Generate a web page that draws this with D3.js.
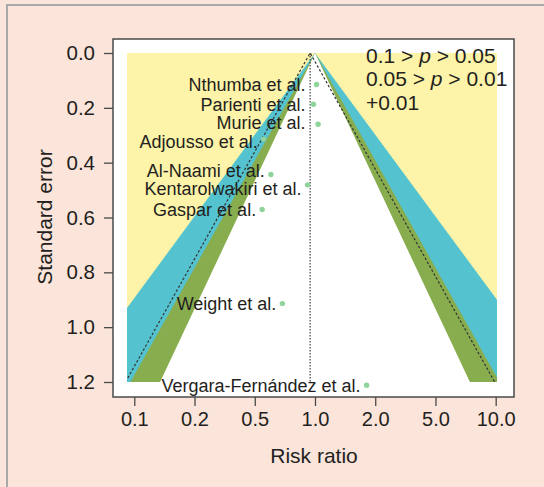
<!DOCTYPE html>
<html><head><meta charset="utf-8">
<script src="https://cdn.jsdelivr.net/npm/d3@7"></script>
<style>
html,body{margin:0;padding:0;background:#fbe4da;}
svg{display:block;font-family:"Liberation Sans",Arial,sans-serif;}
</style></head>
<body>
<script>
// ---- data ----
const studies = ["Nthumba et al.","Parienti et al.","Murie et al.","Adjousso et al.","Al-Naami et al.","Kentarolwakiri et al.","Gaspar et al.","Weight et al.","Vergara-Fernández et al."];
const riskRatios = [1.02, 0.98, 1.04, 0.52, 0.57, 0.91, 0.51, 0.66, 1.93];
const standardErrors = [0.115, 0.187, 0.260, 0.314, 0.443, 0.481, 0.571, 0.914, 1.212];
const pooledRR = 0.94;
const xTickLabels = ["0.1","0.2","0.5","1.0","2.0","5.0","10.0"];
const yTicks = [0.0, 0.2, 0.4, 0.6, 0.8, 1.0, 1.2];
const contourZ = [1.645, 1.96, 2.576];
const legendLabels = [["0.1 > ","p"," > 0.05"],["0.05 > ","p"," > 0.01"],["+0.01","",""]];
const seMax = 1.2;
const xRegion = [-2.39, 2.32]; // log risk ratio extent of contour region

// ---- layout ----
const W = 544, H = 487;
const svg = d3.select("body").append("svg").attr("width", W).attr("height", H);
svg.append("rect").attr("width", W).attr("height", H).attr("fill", "#fbe4da");
svg.append("path").attr("d", `M7,${H} L7,5 L${W},5`).attr("fill","none").attr("stroke","#a9a9a9").attr("stroke-width",2);

const x = d3.scaleLinear().domain([-2.574, 2.536]).range([113, 514]);
const y = d3.scaleLinear().domain([0, 1.2]).range([53, 382]);
const yBox = [y.invert(39), y.invert(397)];

// box
svg.append("rect").attr("x", x.range()[0]).attr("y", y(yBox[0]))
  .attr("width", x.range()[1]-x.range()[0]).attr("height", y(yBox[1])-y(yBox[0]))
  .attr("fill","#fff").attr("stroke","#4a4a4a").attr("stroke-width",1.5);

// contour region (snapped to whole pixels)
const rx0 = Math.round(x(xRegion[0])), rx1 = Math.round(x(xRegion[1]));
const ry0 = Math.round(y(0)), ry1 = Math.round(y(seMax));
svg.append("clipPath").attr("id","reg").append("rect")
  .attr("x", rx0).attr("y", ry0).attr("width", rx1-rx0).attr("height", ry1-ry0);
const g = svg.append("g").attr("clip-path","url(#reg)");
g.append("rect").attr("x", rx0).attr("y", ry0).attr("width", rx1-rx0).attr("height", ry1-ry0).attr("fill","#fdf3a9");
const fills = ["#ffffff","#88ad4f","#55c3cf"];
const line = d3.line().x(d=>x(d[0])).y(d=>y(d[1]));
const seExt = seMax * 1.1;
[2,1,0].forEach(i=>{
  const z = contourZ[i];
  g.append("path").attr("d", line([[0,0],[-z*seExt,seExt],[z*seExt,seExt]])+"Z").attr("fill", fills[i]);
});
const est = Math.log(pooledRR);
g.append("path").attr("d", line([[est-1.96*seMax,seMax],[est,0],[est+1.96*seMax,seMax]]))
  .attr("fill","none").attr("stroke","#333").attr("stroke-width",1.2).attr("stroke-dasharray","2.5,2");
g.append("path").attr("d", line([[est,0],[est,seMax]]))
  .attr("fill","none").attr("stroke","#333").attr("stroke-width",1.1).attr("stroke-dasharray","1.5,1.5");

// points + labels
const pts = studies.map((s,i)=>({s, lx: Math.log(riskRatios[i]), se: standardErrors[i]}));
svg.selectAll("circle.pt").data(pts).join("circle").attr("class","pt")
  .attr("cx", d=>x(d.lx)).attr("cy", d=>y(d.se)).attr("r",2.7).attr("fill","#8fd49a");
// label ends just left of its point, but stays left of the reference line where they meet
const labelEnd = d => {
  const e = x(d.lx) - 6;
  return (d.se <= seMax && e > x(est) - 4.5) ? x(est) - 4.5 : e;
};
const fs = 18;
const ctx = document.createElement("canvas").getContext("2d");
ctx.font = `${fs}px "Liberation Sans", Arial, sans-serif`;
pts.forEach(d => { d.xe = labelEnd(d); d.xs = d.xe - ctx.measureText(d.s).width; d.cy = y(d.se); });
// simple vertical de-overlap of neighbouring labels that share horizontal space
const minGap = 18.5;
for (let k = 0; k < 5; k++) {
  for (let i = 0; i < pts.length - 1; i++) {
    const a = pts[i], b = pts[i+1];
    const hOverlap = a.xs < b.xe && b.xs < a.xe;
    const gap = b.cy - a.cy;
    if (hOverlap && gap < minGap) { const s = (minGap - gap) / 2; a.cy -= s; b.cy += s; }
  }
}
svg.selectAll("text.lab").data(pts).join("text").attr("class","lab")
  .attr("x", d=>d.xe).attr("y", d=>d.cy+6.5)
  .attr("text-anchor","end").attr("font-size",fs).attr("fill","#231f20").text(d=>d.s);

// axes
const tickPos = xTickLabels.map((_,i)=>Math.log(0.1)+i*(Math.log(10)-Math.log(0.1))/(xTickLabels.length-1));
const xAxis = d3.axisBottom(x).tickValues(tickPos).tickFormat((d,i)=>xTickLabels[i]).tickSize(9).tickPadding(6);
const gx = svg.append("g").attr("transform",`translate(0,${y(yBox[1])})`).call(xAxis);
gx.select(".domain").remove();
gx.selectAll("line").attr("stroke","#4a4a4a").attr("stroke-width",1.3);
gx.selectAll("text").attr("font-size",20).attr("fill","#231f20").attr("font-family","Liberation Sans, Arial, sans-serif");

const yAxis = d3.axisLeft(y).tickValues(yTicks).tickFormat(d3.format(".1f")).tickSize(9).tickPadding(9);
const gy = svg.append("g").attr("transform",`translate(${x.range()[0]},0)`).call(yAxis);
gy.select(".domain").remove();
gy.selectAll("line").attr("stroke","#4a4a4a").attr("stroke-width",1.3);
gy.selectAll("text").attr("font-size",20.5).attr("fill","#231f20").attr("font-family","Liberation Sans, Arial, sans-serif");

svg.append("text").attr("x",314).attr("y",463).attr("text-anchor","middle")
  .attr("font-size",21).attr("fill","#231f20").text("Risk ratio");
svg.append("text").attr("transform","translate(52,217) rotate(-90)").attr("text-anchor","middle")
  .attr("font-size",21).attr("fill","#231f20").text("Standard error");

// legend
legendLabels.forEach((parts,i)=>{
  const t = svg.append("text").attr("x",366).attr("y",[63,86,110][i]).attr("font-size",21).attr("fill","#231f20");
  t.append("tspan").text(parts[0]);
  if (parts[1]) t.append("tspan").attr("font-style","italic").text(parts[1]);
  if (parts[2]) t.append("tspan").text(parts[2]);
});
</script>
</body></html>
